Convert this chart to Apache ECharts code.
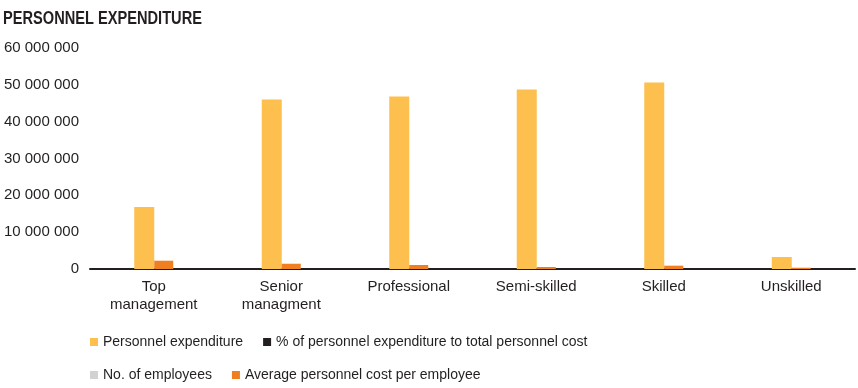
<!DOCTYPE html>
<html>
<head>
<meta charset="utf-8">
<script src="https://cdn.jsdelivr.net/npm/echarts@6/dist/echarts.min.js"></script>
<style>
html,body{margin:0;padding:0;background:#fff;}
#chart{width:858px;height:388px;}
</style>
</head>
<body>
<div id="chart"></div>
<script>
const titleText = 'PERSONNEL EXPENDITURE';
const categories = ['Top\nmanagement', 'Senior\nmanagment', 'Professional', 'Semi-skilled', 'Skilled', 'Unskilled'];
const personnelExpenditure = [16860000, 46000000, 46800000, 48700000, 50600000, 3250000];
const pctOfTotal = [];
const noOfEmployees = [];
const avgCostPerEmployee = [2250000, 1430000, 1080000, 540000, 900000, 350000];
const seriesNames = ['Personnel expenditure', '% of personnel expenditure to total personnel cost', 'No. of employees', 'Average personnel cost per employee'];
const yTicks = [0, 10000000, 20000000, 30000000, 40000000, 50000000, 60000000];

const colors = ['#FDBF4D', '#231F20', '#D1D2D4', '#F07F22'];
const textColor = '#231F20';
const fontFam = '"Liberation Sans", Arial, sans-serif';

function fmt(v) {
  return String(v).replace(/\B(?=(\d{3})+(?!\d))/g, ' ');
}

const chart = echarts.init(document.getElementById('chart'), null, {renderer: 'canvas'});
chart.setOption({
  animation: false,
  backgroundColor: '#fff',
  graphic: [
    {
      type: 'text',
      left: 3,
      top: 9,
      scaleX: 0.79,
      style: {
        text: titleText,
        font: 'bold 18.5px "Liberation Sans", Arial, sans-serif',
        fill: textColor
      }
    }
  ],
  grid: {left: 90, right: 3, top: 48, bottom: 119, containLabel: false},
  legend: [
    {
      data: [seriesNames[0], seriesNames[1]],
      left: 90, top: 335, padding: 0,
      icon: 'rect', itemWidth: 8, itemHeight: 8, itemGap: 20,
      textStyle: {fontFamily: fontFam, fontSize: 14, color: textColor}
    },
    {
      data: [seriesNames[2], seriesNames[3]],
      left: 90, top: 368, padding: 0,
      icon: 'rect', itemWidth: 8, itemHeight: 8, itemGap: 20,
      textStyle: {fontFamily: fontFam, fontSize: 14, color: textColor}
    }
  ],
  xAxis: [
    {
      type: 'category',
      data: categories,
      axisLine: {show: true, lineStyle: {color: '#231F20', width: 2}},
      axisTick: {show: false},
      axisLabel: {fontFamily: fontFam, fontSize: 15, color: textColor, margin: 9, lineHeight: 18, interval: 0}
    },
    {
      type: 'category',
      data: categories,
      show: false
    }
  ],
  yAxis: {
    type: 'value',
    min: yTicks[0],
    max: yTicks[yTicks.length - 1],
    interval: yTicks[1] - yTicks[0],
    axisLine: {show: false},
    axisTick: {show: false},
    splitLine: {show: false},
    axisLabel: {fontFamily: fontFam, fontSize: 15, color: textColor, margin: 11, formatter: fmt}
  },
  series: [
    {name: seriesNames[0], type: 'bar', data: personnelExpenditure, barWidth: 20, barGap: '0%', itemStyle: {color: colors[0]}},
    {name: seriesNames[3], type: 'bar', data: avgCostPerEmployee, barWidth: 19, barGap: '0%', itemStyle: {color: colors[3]}},
    {name: seriesNames[1], type: 'bar', xAxisIndex: 1, data: pctOfTotal, itemStyle: {color: colors[1]}},
    {name: seriesNames[2], type: 'bar', xAxisIndex: 1, data: noOfEmployees, itemStyle: {color: colors[2]}}
  ]
});
</script>
</body>
</html>
